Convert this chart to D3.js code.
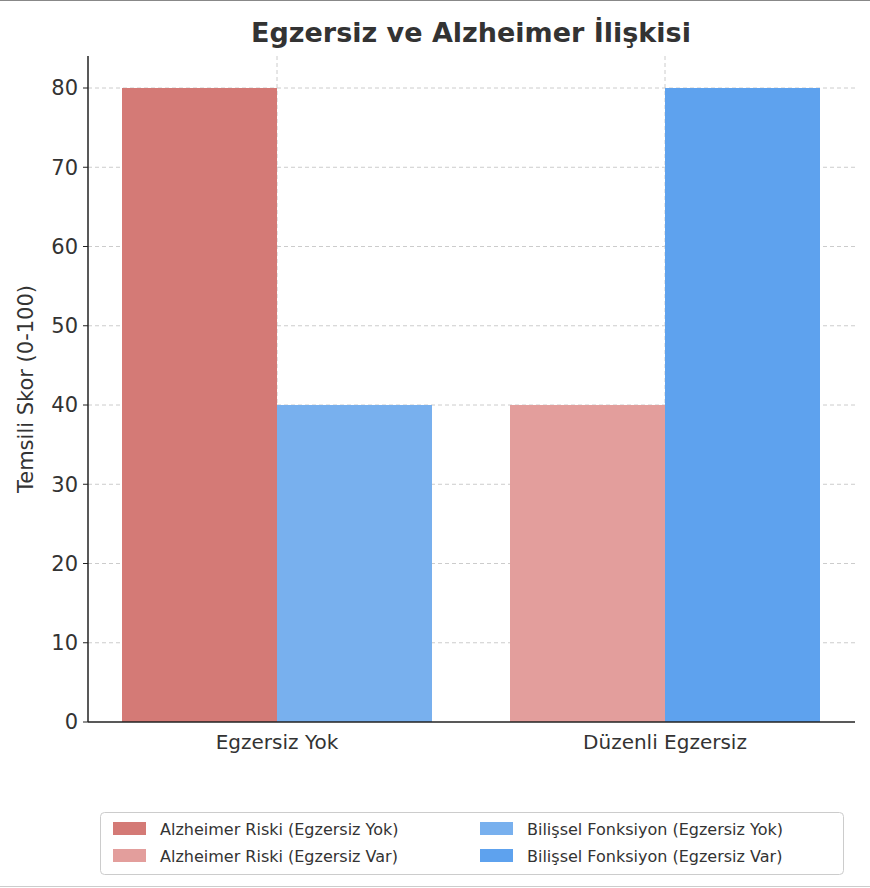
<!DOCTYPE html>
<html><head><meta charset="utf-8">
<script src="https://cdn.jsdelivr.net/npm/d3@7"></script>
<style>body{margin:0;background:#fff;font-family:"DejaVu Sans",sans-serif}</style>
</head><body>
<script>
const categories = ["Egzersiz Yok", "Düzenli Egzersiz"];
const seriesNames = ["Alzheimer Riski (Egzersiz Yok)", "Alzheimer Riski (Egzersiz Var)", "Bilişsel Fonksiyon (Egzersiz Yok)", "Bilişsel Fonksiyon (Egzersiz Var)"];
const seriesColors = ["#d47a76", "#e39e9c", "#78b0ee", "#5ea2ee"];
// bars: [category index, side (-1 left / +1 right), value, series index]
const bars = [
  {cat: "Egzersiz Yok", side: -1, value: 80, s: 0},
  {cat: "Egzersiz Yok", side: 1, value: 40, s: 2},
  {cat: "Düzenli Egzersiz", side: -1, value: 40, s: 1},
  {cat: "Düzenli Egzersiz", side: 1, value: 80, s: 3}
];
const yTicks = [0,10,20,30,40,50,60,70,80];

const W=870,H=888;
const svg=d3.select("body").append("svg").attr("width",W).attr("height",H);
svg.append("line").attr("x1",0).attr("x2",W).attr("y1",0.5).attr("y2",0.5).attr("stroke","#888");
svg.append("line").attr("x1",0).attr("x2",W).attr("y1",886.5).attr("y2",886.5).attr("stroke","#ccc");
const L=88,R=855,T=56,B=722;
const y=d3.scaleLinear().domain([0,80]).range([B,88]);
const x=d3.scaleOrdinal().domain(categories).range([277,665]);
const bw=155;
const g=svg.append("g");
// grid
g.selectAll(".hg").data(yTicks.slice(1)).join("line").attr("x1",L).attr("x2",R).attr("y1",d=>y(d)).attr("y2",d=>y(d)).attr("stroke","#ccc").attr("stroke-dasharray","4,3");
g.selectAll(".vg").data(categories).join("line").attr("x1",d=>x(d)).attr("x2",d=>x(d)).attr("y1",T).attr("y2",B).attr("stroke","#ccc").attr("stroke-dasharray","4,3");
g.selectAll("rect").data(bars).join("rect")
 .attr("x",d=>d.side<0?x(d.cat)-bw:x(d.cat)).attr("width",bw)
 .attr("y",d=>y(d.value)).attr("height",d=>B-y(d.value)).attr("fill",d=>seriesColors[d.s]);
// axes
g.append("line").attr("x1",L).attr("x2",L).attr("y1",T).attr("y2",B).attr("stroke","#222").attr("stroke-width",1.5);
g.append("line").attr("x1",L).attr("x2",R).attr("y1",B).attr("y2",B).attr("stroke","#222").attr("stroke-width",1.5);
g.selectAll(".yt").data(yTicks).join("text").attr("x",L-10).attr("y",d=>y(d)).attr("dy","0.35em").attr("text-anchor","end").attr("font-size",21).attr("fill","#333").text(d=>d);
g.selectAll(".yk").data(yTicks).join("line").attr("x1",L-5).attr("x2",L).attr("y1",d=>y(d)).attr("y2",d=>y(d)).attr("stroke","#222");
g.selectAll(".xt").data(categories).join("text").attr("x",d=>x(d)).attr("y",749).attr("text-anchor","middle").attr("font-size",20).attr("fill","#333").text(d=>d);
svg.append("text").attr("x",471).attr("y",42).attr("text-anchor","middle").attr("font-size",27).attr("font-weight","bold").attr("fill","#333").text("Egzersiz ve Alzheimer İlişkisi");
svg.append("text").attr("transform","translate(33,389) rotate(-90)").attr("text-anchor","middle").attr("font-size",21).attr("fill","#333").text("Temsili Skor (0-100)");
// legend
const lg=svg.append("g");
lg.append("rect").attr("x",100.5).attr("y",812.5).attr("width",743).attr("height",62).attr("rx",4).attr("fill","#fff").attr("stroke","#ccc");
const lpos=[[113,829],[113,856],[480,829],[480,856]];
seriesNames.forEach((n,i)=>{
 lg.append("rect").attr("x",lpos[i][0]).attr("y",lpos[i][1]-7).attr("width",33).attr("height",13).attr("fill",seriesColors[i]);
 lg.append("text").attr("x",lpos[i][0]+47).attr("y",lpos[i][1]).attr("dy","0.35em").attr("font-size",16).attr("fill","#333").text(n);
});
</script>
</body></html>
